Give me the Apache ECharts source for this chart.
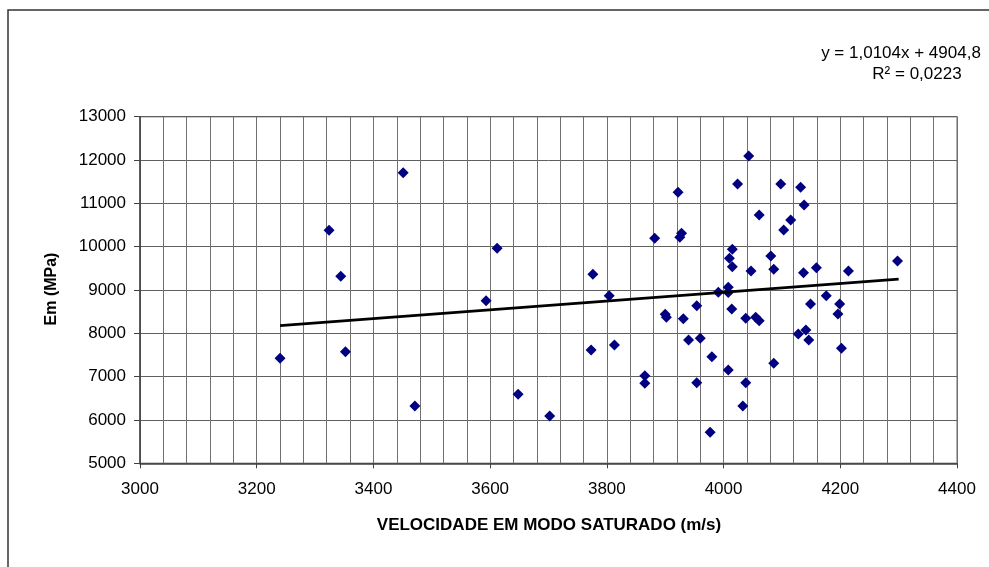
<!DOCTYPE html>
<html>
<head>
<meta charset="utf-8">
<script src="https://cdn.jsdelivr.net/npm/echarts@6/dist/echarts.min.js"></script>
<style>html,body{margin:0;padding:0;background:#fff;}#c{width:989px;height:567px;}</style>
</head>
<body>
<div id="c"></div>
<script>
var xVals = [3240,3324,3344,3352,3451,3471,3593,3612,3648,3702,3773,3776,3804,3813,3865,3865,3882,3900,3902,3922,3925,3928,3931,3940,3954,3954,3960,3977,3980,3991,4008,4008,4008,4010,4014,4015,4015,4024,4033,4038,4038,4043,4047,4055,4061,4061,4081,4086,4086,4098,4103,4115,4128,4132,4137,4138,4141,4146,4149,4159,4176,4196,4199,4202,4214,4298];
var yVals = [7424,10378,9316,7577,11708,6323,8754,9962,6593,6093,7616,9363,8869,7731,7023,6847,10194,8440,8370,11255,10217,10309,8338,7847,8638,6861,7885,5716,7461,8947,9063,8940,7154,9732,8562,9940,9538,11447,6323,8347,6861,12093,9439,8370,8292,10731,9785,9478,7309,11447,10385,10616,7985,11371,9400,10962,8077,7847,8677,9515,8869,8447,8677,7655,9439,9670];
var trendX = [3240, 4300];
var trendY = [8178, 9250];
var xTitle = 'VELOCIDADE EM MODO SATURADO (m/s)';
var yTitle = 'Em (MPa)';
var eqLine1 = 'y = 1,0104x + 4904,8';
var eqLine2 = 'R² = 0,0223';

var pts = xVals.map(function(x, i){ return [x, yVals[i]]; });
var trend = trendX.map(function(x, i){ return [x, trendY[i]]; });
var FONT = "'Liberation Sans', Arial, sans-serif";
var plain = function(v){ return String(v); };

var chart = echarts.init(document.getElementById('c'), null, {renderer: 'canvas'});
chart.setOption({
  backgroundColor: '#fff',
  animation: false,
  grid: {left: 140, right: 32, top: 116.7, bottom: 103.7, show: true, borderColor: '#9a9a9a', borderWidth: 1.5, backgroundColor: 'transparent'},
  xAxis: {
    type: 'value', min: 3000, max: 4400, interval: 200,
    axisLine: {show: true, onZero: false, lineStyle: {color: '#404040', width: 1.5}},
    axisTick: {show: true, length: 5, lineStyle: {color: '#404040'}},
    minorTick: {show: false, splitNumber: 5},
    minorSplitLine: {show: true, lineStyle: {color: '#707070', width: 1}},
    splitLine: {show: true, lineStyle: {color: '#707070', width: 1}},
    axisLabel: {color: '#000', fontFamily: FONT, fontSize: 17, margin: 18, formatter: plain}
  },
  yAxis: {
    type: 'value', min: 5000, max: 13000, interval: 1000,
    axisLine: {show: true, lineStyle: {color: '#404040', width: 1.5}},
    axisTick: {show: true, length: 6, lineStyle: {color: '#404040'}},
    splitLine: {show: true, lineStyle: {color: '#606060', width: 1}},
    axisLabel: {color: '#000', fontFamily: FONT, fontSize: 17, margin: 14, formatter: plain}
  },
  series: [
    {type: 'scatter', data: pts, symbol: 'diamond', symbolSize: 11, itemStyle: {color: '#000080', opacity: 1}, z: 3},
    {type: 'line', data: trend, symbol: 'none', lineStyle: {color: '#000', width: 2.7}, z: 4}
  ],
  graphic: [
    {type: 'rect', shape: {x: 8, y: 10, width: 1200, height: 800}, style: {fill: 'none', stroke: '#333', lineWidth: 1.5}, z: 10, silent: true},
    {type: 'text', x: 549, y: 525, style: {text: xTitle, font: 'bold 17px ' + FONT, fill: '#000', align: 'center', verticalAlign: 'middle'}},
    {type: 'text', x: 52, y: 289, rotation: Math.PI / 2, style: {text: yTitle, font: 'bold 16px ' + FONT, fill: '#000', align: 'center', verticalAlign: 'middle'}},
    {type: 'text', x: 901, y: 53, style: {text: eqLine1, font: '17px ' + FONT, fill: '#000', align: 'center', verticalAlign: 'middle'}},
    {type: 'text', x: 917, y: 74, style: {text: eqLine2, font: '17px ' + FONT, fill: '#000', align: 'center', verticalAlign: 'middle'}}
  ]
});
</script>
</body>
</html>
